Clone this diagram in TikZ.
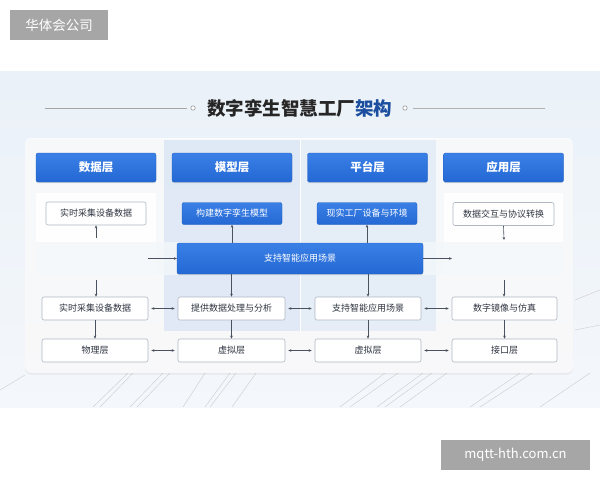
\documentclass[tikz,border=0pt]{standalone}
\usepackage{fontspec}
\setmainfont{Noto Sans CJK SC}
\usetikzlibrary{arrows.meta,shadows}
\definecolor{hblue}{HTML}{2468D4}
\definecolor{hblueT}{HTML}{3A80E6}
\definecolor{tblue}{HTML}{1B4E9E}
\definecolor{bgA}{HTML}{EAF1F8}
\definecolor{bgB}{HTML}{F4F7FB}
\definecolor{colhl}{HTML}{DCE7F5}
\definecolor{boxline}{HTML}{AEB7C2}
\definecolor{txt}{HTML}{2E3440}
\definecolor{arr}{HTML}{4A5260}
\definecolor{wm}{HTML}{A6A6A6}
\tikzset{
  hdr/.style={rectangle, rounded corners=2pt, top color=hblueT, bottom color=hblue, draw=hblue!90!black, line width=0.3pt,
     minimum width=120pt, minimum height=29pt, text=white, font=\fontsize{11.5}{12}\selectfont\bfseries, inner sep=0pt,
     drop shadow={shadow xshift=0pt, shadow yshift=-1.2pt, opacity=0.25}},
  wbox/.style={rectangle, rounded corners=2pt, fill=white, draw=boxline, line width=0.6pt,
     minimum width=#1, minimum height=23pt, text=txt, font=\fontsize{9}{10}\selectfont, inner sep=0pt},
  bbox/.style={rectangle, rounded corners=2pt, top color=hblueT, bottom color=hblue, draw=hblue!90!black, line width=0.3pt,
     minimum width=#1, minimum height=22pt, text=white, font=\fontsize{9}{10}\selectfont, inner sep=0pt},
  conn/.style={draw=arr, line width=0.6pt, -{Stealth[length=3pt,width=2.6pt]}},
  dconn/.style={draw=arr, line width=0.6pt, {Stealth[length=3pt,width=2.6pt]}-{Stealth[length=3pt,width=2.6pt]}, shorten >=3pt, shorten <=3pt},
  wmark/.style={rectangle, fill=wm, text=white, inner sep=0pt},
  floor/.style={draw=gray!35, line width=0.5pt}
}
\begin{document}
\begin{tikzpicture}[x=1pt,y=-1pt]
\useasboundingbox (0,0) rectangle (600,480);
\fill[white] (0,0) rectangle (600,480);
% background image area
\shade[top color=bgA, bottom color=bgB] (0,71) rectangle (600,407);
% floor lines
\foreach \a/\b in {93/128,100/133,130/163,137/170,183/205,205/230,210/236,232/256,340/385,350/398,377/423,385/432,400/447,470/520,480/532,540/590}{
  \draw[floor] (\b,373) -- (\a,407);
}
\draw[floor] (0,390) -- (25,375);
\draw[floor] (575,300) -- (600,290);
\draw[floor] (575,330) -- (600,325);
% title decoration
\draw[gray!70, line width=0.8pt] (45,108) -- (187,108);
\draw[gray!60, line width=0.8pt] (413,108) -- (545,108);
\draw[gray!80, line width=0.6pt, fill=white] (193,108) circle (2.2pt);
\draw[gray!80, line width=0.6pt, fill=white] (405,108) circle (2.2pt);
\node[font=\fontsize{18.5}{20}\selectfont\bfseries, text=black!85, inner sep=0pt] (title) at (299.5,108) {数字孪生智慧工厂\textcolor{tblue}{架构}};
% main panel
\fill[white, opacity=0.75, rounded corners=6pt, drop shadow={shadow xshift=0pt, shadow yshift=-1.5pt, opacity=0.12}] (25,138) rectangle (573,373);
% column highlights
\fill[colhl, opacity=0.85] (164,140) rectangle (300,331);
\fill[colhl!80, opacity=0.85] (300,140) rectangle (436,331);
\draw[white, line width=0.8pt] (300,140) -- (300,331);
% sub panels
\fill[white!97!bgA] (36,193) rectangle (156,275);
\fill[white!97!bgA] (444,193) rectangle (563,275);
\fill[bgA!60, opacity=0.8] (36,242) rectangle (563,275);
% headers
\node[hdr] (h1) at (96,167.5) {数据层};
\node[hdr] (h2) at (232,167.5) {模型层};
\node[hdr] (h3) at (367.5,167.5) {平台层};
\node[hdr] (h4) at (503.5,167.5) {应用层};
% row 2
\node[wbox=100pt] (a2) at (96,213.5) {实时采集设备数据};
\node[bbox=100pt] (b2) at (232,213.5) {构建数字孪生模型};
\node[bbox=100pt] (c2) at (367,213.5) {现实工厂设备与环境};
\node[wbox=101pt] (d2) at (503.5,214) {数据交互与协议转换};
% bar
\node[rectangle, rounded corners=2pt, top color=hblueT, bottom color=hblue, draw=hblue!90!black, line width=0.3pt,
  minimum width=246pt, minimum height=31pt, text=white, font=\fontsize{9}{10}\selectfont, inner sep=0pt,
  drop shadow={shadow xshift=0pt, shadow yshift=-1.2pt, opacity=0.25}] (bar) at (300,258.5) {支持智能应用场景};
% rows 3 and 4
\node[wbox=106pt] (a3) at (95,308.5) {实时采集设备数据};
\node[wbox=107pt] (b3) at (231.5,308.5) {提供数据处理与分析};
\node[wbox=106pt] (c3) at (368,308.5) {支持智能应用场景};
\node[wbox=105pt] (d3) at (504.5,308.5) {数字镜像与仿真};
\node[wbox=106pt] (a4) at (95,350.5) {物理层};
\node[wbox=107pt] (b4) at (231.5,350.5) {虚拟层};
\node[wbox=106pt] (c4) at (368,350.5) {虚拟层};
\node[wbox=105pt] (d4) at (504.5,350.5) {接口层};
% free ends
\coordinate (lin) at (148,258.5);
\coordinate (rout) at (452,258.5);
\coordinate (aup) at (96,238);
\coordinate (ddn) at (504,240);
\coordinate (adn) at (96,280);
\coordinate (ddn2) at (504,280);
% connectors
\draw[conn] (lin) -- (bar.west);
\draw[conn] (bar.east) -- (rout);
\draw[conn] (aup) -- (a2.south);
\draw[conn] (bar.north -| b2) -- (b2.south);
\draw[conn] (bar.north -| c2) -- (c2.south);
\draw[conn] (d2.south) -- (ddn);
\draw[conn] (adn) -- (adn |- a3.north);
\draw[conn] (bar.south -| b3) -- (b3.north);
\draw[conn] (bar.south -| c3) -- (c3.north);
\draw[conn] (ddn2) -- (ddn2 |- d3.north);
\draw[conn] (a3.south) -- (a4.north);
\draw[conn] (b3.south) -- (b4.north);
\draw[conn] (c3.south) -- (c4.north);
\draw[conn] (d3.south) -- (d4.north);
\draw[dconn] (a3.east) -- (b3.west);
\draw[dconn] (b3.east) -- (c3.west);
\draw[dconn] (c3.east) -- (d3.west);
\draw[dconn] (a4.east) -- (b4.west);
\draw[dconn] (b4.east) -- (c4.west);
\draw[dconn] (c4.east) -- (d4.west);
% watermarks
\node[wmark, minimum width=98pt, minimum height=30pt, font=\fontsize{13.5}{14}\selectfont] (wm1) at (59,25) {华体会公司};
\node[wmark, minimum width=149pt, minimum height=30pt, font=\fontsize{13}{14}\selectfont] (wm2) at (515.5,455) {mqtt-hth.com.cn};
\end{tikzpicture}
\end{document}
